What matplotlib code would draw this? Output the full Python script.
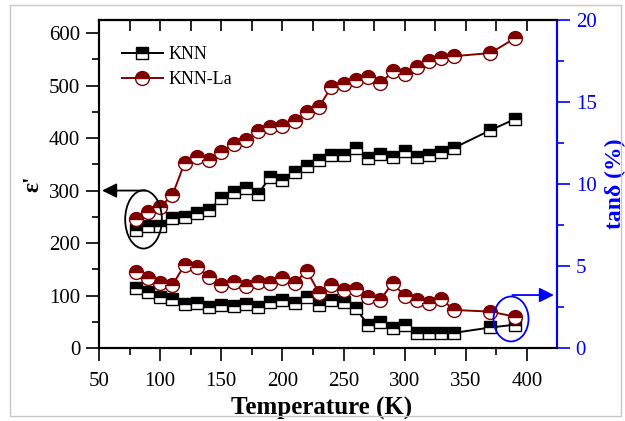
import matplotlib
matplotlib.use("Agg")
import matplotlib.pyplot as plt
from matplotlib.patches import Ellipse, Rectangle
from matplotlib.ticker import MultipleLocator

plt.rcParams["font.family"] = ["Liberation Serif", "DejaVu Serif"]

# temperatures (K)
temps = [80, 90, 100, 110, 120, 130, 140, 150, 160, 170, 180, 190, 200, 210,
         220, 230, 240, 250, 260, 270, 280, 290, 300, 310, 320, 330, 340, 370, 390]

# permittivity eps'
eps_knn = [225, 232, 232, 247, 250, 257, 263, 285, 297, 304, 294, 325, 320, 335,
           347, 358, 368, 368, 382, 362, 369, 363, 375, 363, 368, 374, 381, 415, 436]
eps_knn_la = [246, 260, 269, 291, 353, 363, 358, 373, 388, 397, 413, 422, 423, 432,
              449, 460, 497, 503, 510, 517, 504, 527, 522, 535, 546, 553, 556, 562, 590]

# loss tangent (%)
tan_knn = [3.64, 3.43, 3.13, 3.0, 2.68, 2.72, 2.52, 2.62, 2.56, 2.68, 2.5, 2.8, 2.93, 2.74,
           3.13, 2.62, 2.93, 2.83, 2.43, 1.40, 1.60, 1.22, 1.40, 0.92, 0.92, 0.92, 0.92,
           1.25, 1.42]
tan_knn_la = [4.65, 4.26, 3.95, 3.84, 5.06, 4.94, 4.33, 3.84, 4.02, 3.78, 4.05, 3.96, 4.27,
              3.96, 4.71, 3.35, 3.84, 3.54, 3.60, 3.13, 2.93, 3.96, 3.18, 2.93, 2.72, 3.0,
              2.32, 2.22, 1.91]

RED = "#7f0000"
BLUE = "#0000ff"

fig = plt.figure(figsize=(6.25, 4.21), dpi=100)
ax = fig.add_axes([0.1584, 0.1734, 0.7328, 0.7791])
ax2 = ax.twinx()

# light frame around the picture
fig.patches.append(Rectangle((10 / 625, 5 / 421), 611 / 625, 411 / 421,
                             transform=fig.transFigure, fill=False,
                             edgecolor="#c8c8c8", lw=1.0))

sq = dict(marker="s", ms=8.5, fillstyle="top", markerfacecoloralt="white",
          mew=1.0, lw=1.4)
ci = dict(marker="o", ms=10, fillstyle="top", markerfacecoloralt="white",
          mew=1.0, lw=1.4)

ax.plot(temps, eps_knn, color="k", mfc="k", mec="k", label="KNN", **sq)
ax.plot(temps, eps_knn_la, color=RED, mfc=RED, mec=RED, label="KNN-La", **ci)
ax2.plot(temps, tan_knn, color="k", mfc="k", mec="k", **sq)
ax2.plot(temps, tan_knn_la, color=RED, mfc=RED, mec=RED, **ci)

ax.set_xlim(50, 424.5)
ax.set_ylim(0, 625)
ax2.set_ylim(0, 20)

ax.xaxis.set_major_locator(MultipleLocator(50))
ax.xaxis.set_minor_locator(MultipleLocator(25))
ax.yaxis.set_major_locator(MultipleLocator(100))
ax.yaxis.set_minor_locator(MultipleLocator(50))
ax2.yaxis.set_major_locator(MultipleLocator(5))
ax2.yaxis.set_minor_locator(MultipleLocator(2.5))

ax.tick_params(axis="both", which="major", length=9.5, width=1.2, labelsize=15,
               direction="out", pad=4)
ax.tick_params(axis="both", which="minor", length=5, width=1.2, direction="out")
ax.tick_params(axis="x", which="major", pad=8)
ax2.tick_params(axis="y", which="major", length=9.5, width=1.2, labelsize=15,
                colors=BLUE, direction="out", pad=4)
ax2.tick_params(axis="y", which="minor", length=5, width=1.2, colors=BLUE,
                direction="out")

# top ticks point inward: draw them on a secondary x axis
top = ax.secondary_xaxis("top")
top.xaxis.set_major_locator(MultipleLocator(50))
top.xaxis.set_minor_locator(MultipleLocator(25))
top.tick_params(which="both", direction="in", length=8, width=1.2, labeltop=False)
top.spines["top"].set_linewidth(1.5)

for s in ax.spines.values():
    s.set_linewidth(1.5)
for s in ax2.spines.values():
    s.set_linewidth(1.5)
ax2.spines["right"].set_color(BLUE)

ax.set_xlabel("Temperature (K)", fontsize=18, fontweight="bold")
ax.xaxis.set_label_coords(0.485, -0.148)
ax.set_ylabel("ε'", fontsize=17, fontweight="bold", labelpad=4)
ax2.set_ylabel("tanδ (%)", fontsize=17, fontweight="bold", color=BLUE, labelpad=6)

ax.legend(loc="upper left", bbox_to_anchor=(0.01, 0.975), frameon=False,
          fontsize=13, handlelength=2.3, handletextpad=0.3, labelspacing=0.45,
          borderaxespad=0.6)

# ellipse + arrow pointing to the left axis
ax.add_patch(Ellipse((86.4, 245), 30, 111, fill=False, edgecolor="k", lw=1.3,
                     zorder=5))
ax.annotate("", xy=(52.5, 300), xytext=(88, 300),
            arrowprops=dict(arrowstyle="-|>", color="k", lw=1.3,
                            mutation_scale=22, shrinkA=0, shrinkB=0))

# ellipse + arrow pointing to the right axis
ax2.add_patch(Ellipse((386.9, 1.77), 28.6, 2.74, fill=False, edgecolor=BLUE,
                      lw=1.3, zorder=5))
ax2.annotate("", xy=(422, 3.23), xytext=(388, 3.23),
             arrowprops=dict(arrowstyle="-|>", color=BLUE, lw=1.3,
                             mutation_scale=22, shrinkA=0, shrinkB=0))

fig.savefig("out.png", dpi=100)
